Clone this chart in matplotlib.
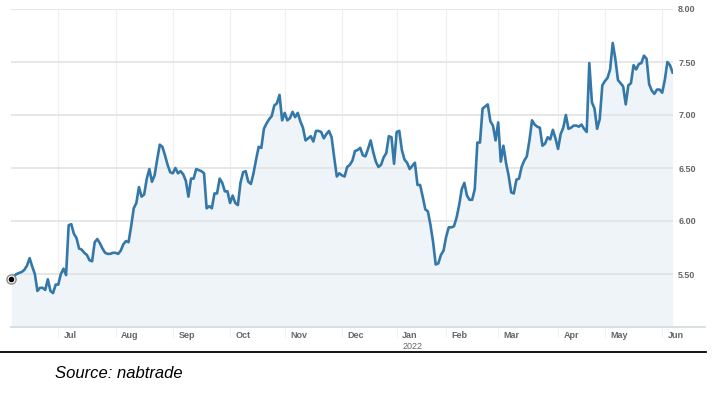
#Share price chart, 12 months of trading days
import numpy as np	#arrays
import pandas as pd	#trading calendar
import matplotlib
matplotlib.use('Agg')
import matplotlib.pyplot as plt	#to plot
from matplotlib.lines import Line2D
from matplotlib.transforms import blended_transform_factory, ScaledTranslation

###################################################################
#data (closing price, one value per trading day from 4 Jun 2021)
price = [5.45, 5.48, 5.50, 5.51, 5.52, 5.54, 5.58, 5.65, 5.57, 5.50,
         5.34, 5.37, 5.37, 5.35, 5.45, 5.34, 5.32, 5.40, 5.40, 5.50,
         5.55, 5.49, 5.96, 5.97, 5.88, 5.84, 5.74, 5.73, 5.70, 5.68,
         5.63, 5.62, 5.80, 5.83, 5.79, 5.74, 5.70, 5.69, 5.69, 5.70,
         5.70, 5.69, 5.72, 5.78, 5.81, 5.80, 5.95, 6.12, 6.17, 6.32,
         6.23, 6.25, 6.40, 6.49, 6.37, 6.43, 6.58, 6.72, 6.70, 6.62,
         6.53, 6.46, 6.45, 6.50, 6.45, 6.47, 6.44, 6.38, 6.23, 6.40,
         6.40, 6.49, 6.48, 6.47, 6.45, 6.12, 6.14, 6.12, 6.26, 6.26,
         6.40, 6.36, 6.28, 6.28, 6.17, 6.24, 6.17, 6.15, 6.36, 6.46,
         6.47, 6.37, 6.35, 6.45, 6.58, 6.70, 6.69, 6.87, 6.92, 6.96,
         6.99, 7.09, 7.11, 7.19, 6.95, 7.02, 6.95, 6.97, 7.03, 6.98,
         7.02, 6.94, 6.88, 6.76, 6.78, 6.80, 6.75, 6.85, 6.85, 6.84,
         6.78, 6.82, 6.85, 6.79, 6.60, 6.42, 6.45, 6.43, 6.42, 6.51,
         6.53, 6.57, 6.66, 6.67, 6.69, 6.62, 6.61, 6.68, 6.76, 6.65,
         6.56, 6.51, 6.53, 6.60, 6.64, 6.80, 6.79, 6.54, 6.84, 6.85,
         6.67, 6.58, 6.55, 6.49, 6.52, 6.55, 6.34, 6.34, 6.23, 6.11,
         6.09, 5.96, 5.80, 5.59, 5.60, 5.68, 5.72, 5.85, 5.94, 5.94,
         5.95, 6.03, 6.15, 6.30, 6.36, 6.24, 6.20, 6.20, 6.30, 6.74,
         6.74, 7.06, 7.08, 7.10, 6.94, 6.90, 6.76, 6.93, 6.56, 6.71,
         6.55, 6.43, 6.27, 6.26, 6.39, 6.40, 6.51, 6.57, 6.61, 6.76,
         6.95, 6.91, 6.89, 6.88, 6.71, 6.73, 6.79, 6.77, 6.86, 6.78,
         6.68, 6.82, 6.88, 7.00, 6.87, 6.88, 6.90, 6.90, 6.89, 6.91,
         6.87, 6.84, 7.49, 7.12, 7.06, 6.87, 6.96, 7.28, 7.32, 7.35,
         7.43, 7.68, 7.53, 7.33, 7.30, 7.27, 7.10, 7.28, 7.30, 7.47,
         7.43, 7.48, 7.49, 7.56, 7.53, 7.29, 7.23, 7.20, 7.24, 7.24,
         7.21, 7.33, 7.50, 7.47, 7.40]

asx_holidays = ['2021-06-14', '2021-12-27', '2021-12-28', '2022-01-03',
                '2022-01-26', '2022-04-15', '2022-04-18', '2022-04-25']
month_starts = ['2021-07-01', '2021-08-01', '2021-09-01', '2021-10-01',
                '2021-11-01', '2021-12-01', '2022-01-01', '2022-02-01',
                '2022-03-01', '2022-04-01', '2022-05-01', '2022-06-01']
month_labels = ['Jul', 'Aug', 'Sep', 'Oct', 'Nov', 'Dec',
                'Jan', 'Feb', 'Mar', 'Apr', 'May', 'Jun']
y_ticks = [5.50, 6.00, 6.50, 7.00, 7.50, 8.00]

####################################################
#x positions: trading day index
dates = pd.bdate_range('2021-06-04', periods=len(price), freq='C',
                       holidays=asx_holidays)
x = np.arange(len(dates))
tick_pos = [int(np.searchsorted(dates, pd.Timestamp(m))) for m in month_starts]

line_col = '#3378a9'
fill_col = '#eef4f8'
grid_col = '#e3e3e3'
vgrid_col = '#f0f0f0'
lab_col = '#666666'

W, H = 713, 394
fig = plt.figure(figsize=(W/100, H/100), dpi=100)
ax = fig.add_axes([11.4/W, 67/H, 661.2/W, 318/H])

ax.fill_between(x, price, 5.0, color=fill_col, lw=0)
ax.plot(x, price, color=line_col, lw=1.9, solid_joinstyle='round', zorder=3)
#start marker
ax.plot(x[0], price[0], marker='o', ms=6.6, mfc='white', mec='#8a8a8a',
        mew=1.0, zorder=4, clip_on=False)
ax.plot(x[0], price[0], marker='o', ms=3.0, color='black', zorder=5,
        clip_on=False)

ax.set_xlim(0, len(price) - 1)
ax.set_ylim(5.0, 8.0)

for s in ax.spines.values():
    s.set_visible(False)

ax.set_yticks(y_ticks)
ax.set_yticklabels(['%.2f' % v for v in y_ticks])
ax.yaxis.tick_right()
ax.tick_params(axis='y', length=0, pad=4, labelsize=6.5, labelcolor=lab_col)
for lab in ax.get_yticklabels():
    lab.set_fontfamily('Liberation Sans')
    lab.set_fontweight('bold')
ax.grid(True, axis='y', color=grid_col, lw=1.2)

ax.set_xticks(tick_pos)
ax.tick_params(axis='x', length=7.2, width=0.8, color=vgrid_col,
               labelbottom=False)
for p in tick_pos:
    ax.axvline(p, color=vgrid_col, lw=0.9, zorder=0.5)

#month labels sit to the right of each gridline
trans = blended_transform_factory(ax.transData, ax.transAxes) + \
    ScaledTranslation(4/72, -3/72, fig.dpi_scale_trans)
for p, name in zip(tick_pos, month_labels):
    ax.text(p, 0, name, transform=trans, ha='left', va='top',
            fontsize=6.5, color=lab_col, fontweight='bold',
            family='Liberation Sans')
trans_year = trans + ScaledTranslation(0, -8/72, fig.dpi_scale_trans)
ax.text(tick_pos[6], 0, '2022', transform=trans_year, ha='left', va='top',
        fontsize=6.5, color=lab_col, family='Liberation Sans')

#bottom axis line and separator
fig.add_artist(Line2D([11/W, 705/W], [67/H, 67/H], color='#d5dde2', lw=1.3))
fig.add_artist(Line2D([0, 706/W], [1 - 352/H, 1 - 352/H], color='black', lw=1.3))

fig.text(55/W, 1 - 373/H, 'Source: nabtrade', fontsize=12, style='italic',
         family='Liberation Sans', va='center', ha='left')

fig.savefig('out.png', dpi=100)
